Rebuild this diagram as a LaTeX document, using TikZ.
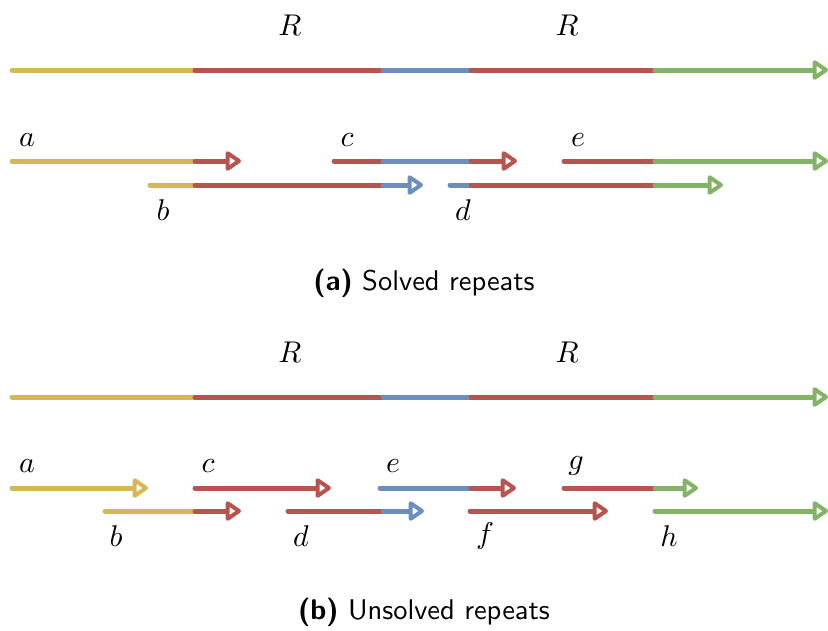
\documentclass[tikz,border=0pt]{standalone}
\usepackage{graphicx}
\usetikzlibrary{arrows.meta}
\definecolor{cy}{HTML}{D6B656}
\definecolor{cr}{HTML}{B85450}
\definecolor{cb}{HTML}{6C8EBF}
\definecolor{cg}{HTML}{82B366}
\tikzset{
  seg/.style={line width=5pt, line cap=round},
  arr/.style={seg, -{Triangle[open, length=17pt, width=22pt, line width=4pt, round]}},
  lab/.style={inner sep=0pt, font=\fontsize{10}{12}\selectfont, scale=3, transform shape},
  captext/.style={inner sep=0pt, font=\sffamily\fontsize{10}{12}\selectfont, scale=2.85, transform shape}
}
\begin{document}
\begin{tikzpicture}[x=1pt,y=-1pt]
\useasboundingbox (0,0) rectangle (828,630);
% ---------- (a) ----------
\foreach \n/\x in {0/12,1/195,2/383,3/471,4/655,5/828}{\coordinate (ta\n) at (\x,70);}
\draw[seg,cy] (ta0) -- (ta1);
\draw[seg,cr] (ta1) -- (ta2);
\draw[seg,cb] (ta2) -- (ta3);
\draw[seg,cr] (ta3) -- (ta4);
\draw[arr,cg] (ta4) -- (ta5);
\node[lab] (Ra1) at (290,25) {$R$};
\node[lab] (Ra2) at (567,25) {$R$};
% row 1
\coordinate (a0) at (12,161); \coordinate (a1) at (195,161); \coordinate (a2) at (241,161);
\draw[seg,cy] (a0) -- (a1); \draw[arr,cr] (a1) -- (a2);
\node[lab] (la) at (27,140) {$a$};
\coordinate (c0) at (334,161); \coordinate (c1) at (383,161); \coordinate (c2) at (471,161); \coordinate (c3) at (517,161);
\draw[seg,cr] (c0) -- (c1); \draw[seg,cb] (c1) -- (c2); \draw[arr,cr] (c2) -- (c3);
\node[lab] (lc) at (347,140) {$c$};
\coordinate (e0) at (564,161); \coordinate (e1) at (655,161); \coordinate (e2) at (828,161);
\draw[seg,cr] (e0) -- (e1); \draw[arr,cg] (e1) -- (e2);
\node[lab] (le) at (578,140) {$e$};
% row 2
\coordinate (b0) at (150,185); \coordinate (b1) at (195,185); \coordinate (b2) at (383,185); \coordinate (b3) at (423,185);
\draw[seg,cy] (b0) -- (b1); \draw[seg,cr] (b1) -- (b2); \draw[arr,cb] (b2) -- (b3);
\node[lab] (lb) at (163,210) {$b$};
\coordinate (d0) at (450,185); \coordinate (d1) at (471,185); \coordinate (d2) at (655,185); \coordinate (d3) at (723,185);
\draw[seg,cb] (d0) -- (d1); \draw[seg,cr] (d1) -- (d2); \draw[arr,cg] (d2) -- (d3);
\node[lab] (ld) at (463,210) {$d$};
\node[captext] (capa) at (424,283) {\textbf{(a)} Solved repeats};
% ---------- (b) ----------
\foreach \n/\x in {0/12,1/195,2/383,3/471,4/655,5/828}{\coordinate (tb\n) at (\x,397);}
\draw[seg,cy] (tb0) -- (tb1);
\draw[seg,cr] (tb1) -- (tb2);
\draw[seg,cb] (tb2) -- (tb3);
\draw[seg,cr] (tb3) -- (tb4);
\draw[arr,cg] (tb4) -- (tb5);
\node[lab] (Rb1) at (290,352) {$R$};
\node[lab] (Rb2) at (567,352) {$R$};
% row 1
\coordinate (A0) at (12,488); \coordinate (A1) at (148,488);
\draw[arr,cy] (A0) -- (A1);
\node[lab] (lA) at (27,466) {$a$};
\coordinate (C0) at (195,488); \coordinate (C1) at (331,488);
\draw[arr,cr] (C0) -- (C1);
\node[lab] (lC) at (208,466) {$c$};
\coordinate (E0) at (380,488); \coordinate (E1) at (471,488); \coordinate (E2) at (516,488);
\draw[seg,cb] (E0) -- (E1); \draw[arr,cr] (E1) -- (E2);
\node[lab] (lE) at (393,466) {$e$};
\coordinate (G0) at (564,488); \coordinate (G1) at (655,488); \coordinate (G2) at (698,488);
\draw[seg,cr] (G0) -- (G1); \draw[arr,cg] (G1) -- (G2);
\node[lab] (lG) at (576,466) {$g$};
% row 2
\coordinate (B0) at (105,511); \coordinate (B1) at (195,511); \coordinate (B2) at (241,511);
\draw[seg,cy] (B0) -- (B1); \draw[arr,cr] (B1) -- (B2);
\node[lab] (lB) at (116,536) {$b$};
\coordinate (D0) at (288,511); \coordinate (D1) at (383,511); \coordinate (D2) at (424,511);
\draw[seg,cr] (D0) -- (D1); \draw[arr,cb] (D1) -- (D2);
\node[lab] (lD) at (301,536) {$d$};
\coordinate (F0) at (470,511); \coordinate (F1) at (608,511);
\draw[arr,cr] (F0) -- (F1);
\node[lab] (lF) at (485,536) {$f$};
\coordinate (H0) at (655,511); \coordinate (H1) at (828,511);
\draw[arr,cg] (H0) -- (H1);
\node[lab] (lH) at (669,536) {$h$};
\node[captext] (capb) at (424,612) {\textbf{(b)} Unsolved repeats};
\end{tikzpicture}
\end{document}
